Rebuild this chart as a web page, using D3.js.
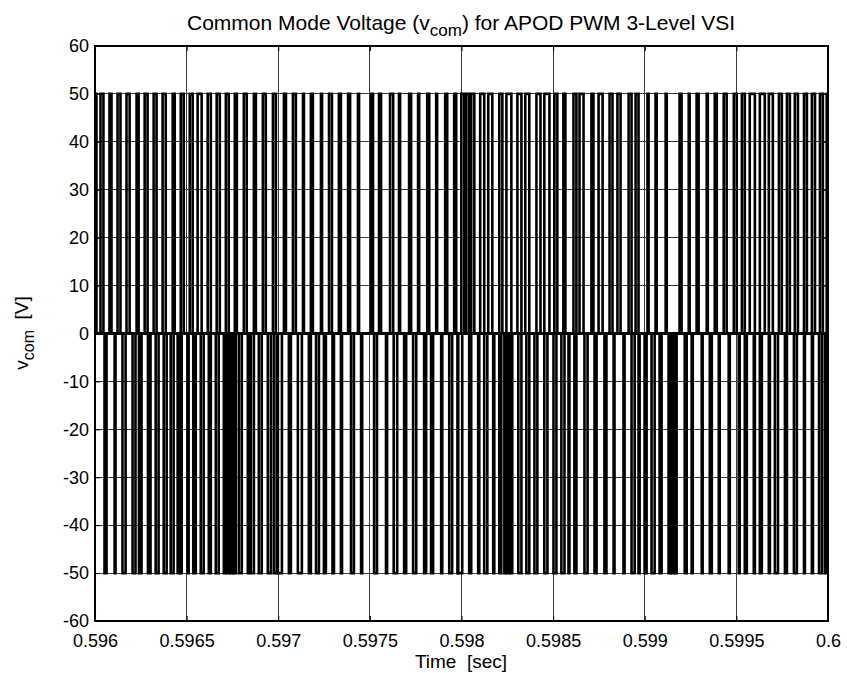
<!DOCTYPE html>
<html><head><meta charset="utf-8">
<script src="https://cdn.jsdelivr.net/npm/d3@7"></script>
<style>
body{margin:0;background:#fff;}
svg text{font-family:"Liberation Sans",Arial,sans-serif;fill:#000;}
</style></head>
<body><svg id="c" width="847" height="673"></svg>
<script>
const T0 = 0.596, T1 = 0.6;
const xTickValues = [0.596,0.5965,0.597,0.5975,0.598,0.5985,0.599,0.5995,0.6];
const xTickLabels = ["0.596","0.5965","0.597","0.5975","0.598","0.5985","0.599","0.5995","0.6"];
const yTickValues = [-60,-50,-40,-30,-20,-10,0,10,20,30,40,50,60];
const yTickLabels = ["-60","-50","-40","-30","-20","-10","0","10","20","30","40","50","60"];
const levels = {upper:50, zero:0, lower:-50};
// pulse start / end, microseconds after 0.596 s
const upperStart = [3,30,79,123,172,227,271,320,369,424,468,517,560,615,664,714,763,812,867,916,971,1031,1080,1135,1178,1233,1277,1331,1381,1435,1506,1550,1610,1659,1714,1763,1813,1862,1911,1960,1999,2026,2053,2102,2146,2206,2245,2305,2348,2409,2452,2507,2556,2611,2644,2709,2748,2808,2851,2912,2950,3015,3059,3114,3190,3240,3283,3338,3382,3431,3486,3530,3573,3628,3677,3732,3776,3819,3869,3912,3956,3993];
const upperEnd   = [8,46,90,139,189,238,287,336,386,435,484,533,582,632,681,730,774,828,878,932,987,1042,1096,1140,1189,1239,1293,1342,1392,1441,1517,1561,1627,1665,1725,1769,1824,1867,1922,1971,2015,2042,2070,2124,2168,2223,2272,2327,2370,2431,2480,2523,2567,2627,2666,2720,2770,2824,2868,2928,2966,3021,3065,3120,3201,3245,3294,3344,3393,3447,3502,3546,3601,3655,3699,3748,3792,3836,3885,3929,3972,3999];
const lowerStart = [52,107,150,205,240,289,331,375,413,451,465,506,536,577,621,659,703,725,741,758,785,834,850,894,943,976,998,1058,1107,1167,1206,1249,1296,1342,1397,1452,1523,1588,1630,1687,1736,1796,1834,1889,1933,1978,1982,2042,2091,2124,2173,2206,2234,2250,2267,2310,2354,2398,2452,2502,2545,2584,2616,2671,2726,2780,2830,2884,2928,2966,2999,3037,3081,3130,3147,3164,3218,3256,3311,3355,3404,3458,3513,3546,3595,3628,3677,3710,3765,3814,3869,3912,3951,3983];
const lowerEnd   = [63,112,167,221,254,303,347,391,429,460,473,511,550,593,632,675,714,735,752,768,801,839,867,910,960,992,1020,1069,1129,1178,1222,1260,1304,1348,1413,1458,1539,1594,1649,1698,1753,1807,1845,1895,1949,1980,2004,2053,2097,2141,2179,2217,2244,2261,2277,2327,2370,2414,2469,2518,2562,2589,2627,2688,2737,2791,2835,2890,2945,2972,3010,3054,3092,3141,3158,3174,3229,3262,3316,3366,3409,3464,3518,3557,3601,3639,3683,3727,3776,3830,3874,3918,3967,3994];

const L=95, R=828, Tp=46, B=621;
const FONT = "Liberation Sans, Arial, sans-serif";
const svg = d3.select("#c");
const x = d3.scaleLinear().domain([T0,T1]).range([L,R]);
const y = d3.scaleLinear().domain([-60,60]).range([B,Tp]);
const us = v => T0 + v*1e-6;

// grid
const g = svg.append("g");
g.selectAll("line.gx").data(xTickValues.slice(1,-1)).enter().append("line")
 .attr("x1",d=>x(d)).attr("x2",d=>x(d)).attr("y1",Tp).attr("y2",B)
 .attr("stroke","#3a3a3a").attr("stroke-width",1).attr("shape-rendering","crispEdges");
g.selectAll("line.gy").data(yTickValues.slice(1,-1)).enter().append("line")
 .attr("x1",L).attr("x2",R).attr("y1",d=>y(d)).attr("y2",d=>y(d))
 .attr("stroke","#3a3a3a").attr("stroke-width",1).attr("shape-rendering","crispEdges");

// waveform
const SW = 2.6;
svg.append("clipPath").attr("id","cp").append("rect").attr("x",L).attr("y",Tp-3).attr("width",R-L).attr("height",B-Tp+6);
const w = svg.append("g").attr("clip-path","url(#cp)");
w.append("path").attr("d",`M${x(T0)},${y(levels.zero)}H${x(T1)}`).attr("stroke","#000").attr("stroke-width",SW+0.4).attr("fill","none");
const pulse = (s,e,lv) => `M${x(us(s))},${y(levels.zero)}V${y(lv)}H${x(us(e))}V${y(levels.zero)}`;
w.selectAll("path.up").data(upperStart.map((s,i)=>[s,upperEnd[i]])).enter().append("path")
 .attr("d",d=>pulse(d[0],d[1],levels.upper)).attr("stroke","#000").attr("stroke-width",SW).attr("fill","none");
w.selectAll("path.lo").data(lowerStart.map((s,i)=>[s,lowerEnd[i]])).enter().append("path")
 .attr("d",d=>pulse(d[0],d[1],levels.lower)).attr("stroke","#000").attr("stroke-width",SW).attr("fill","none");

// axes box and ticks
svg.append("rect").attr("x",L).attr("y",Tp).attr("width",R-L).attr("height",B-Tp)
 .attr("fill","none").attr("stroke","#000").attr("stroke-width",1.2).attr("shape-rendering","crispEdges");
const xb = d3.axisBottom(x).tickValues(xTickValues).tickFormat((d,i)=>xTickLabels[i]).tickSizeInner(-5).tickSizeOuter(0).tickPadding(13);
const yl = d3.axisLeft(y).tickValues(yTickValues).tickFormat((d,i)=>yTickLabels[i]).tickSizeInner(-5).tickSizeOuter(0).tickPadding(6);
const ax = svg.append("g").attr("transform",`translate(0,${B})`).call(xb);
const ay = svg.append("g").attr("transform",`translate(${L},0)`).call(yl);
svg.append("g").attr("transform",`translate(0,${Tp})`).call(d3.axisTop(x).tickValues(xTickValues).tickFormat("").tickSizeInner(-5).tickSizeOuter(0));
svg.append("g").attr("transform",`translate(${R},0)`).call(d3.axisRight(y).tickValues(yTickValues).tickFormat("").tickSizeInner(-5).tickSizeOuter(0));
svg.selectAll(".domain").remove();
svg.selectAll(".tick line").attr("stroke","#000");
ax.selectAll("text").attr("font-size",18).attr("font-family",FONT);
ay.selectAll("text").attr("font-size",18).attr("font-family",FONT);

// labels
const title = svg.append("text").attr("x",461).attr("y",30).attr("text-anchor","middle").attr("font-size",21);
title.append("tspan").text("Common Mode Voltage (v");
title.append("tspan").attr("dy",6).attr("font-size",17).text("com");
title.append("tspan").attr("dy",-6).text(") for APOD PWM 3-Level VSI");

svg.append("text").attr("x",461).attr("y",668).attr("text-anchor","middle").attr("font-size",19).style("white-space","pre").text("Time  [sec]");

const yt = svg.append("text").attr("transform","translate(28,333) rotate(-90)").attr("text-anchor","middle").attr("font-size",19).style("white-space","pre");
yt.append("tspan").text("v");
yt.append("tspan").attr("dy",6).attr("font-size",16).text("com");
yt.append("tspan").attr("dy",-6).text("  [V]");
</script></body></html>
